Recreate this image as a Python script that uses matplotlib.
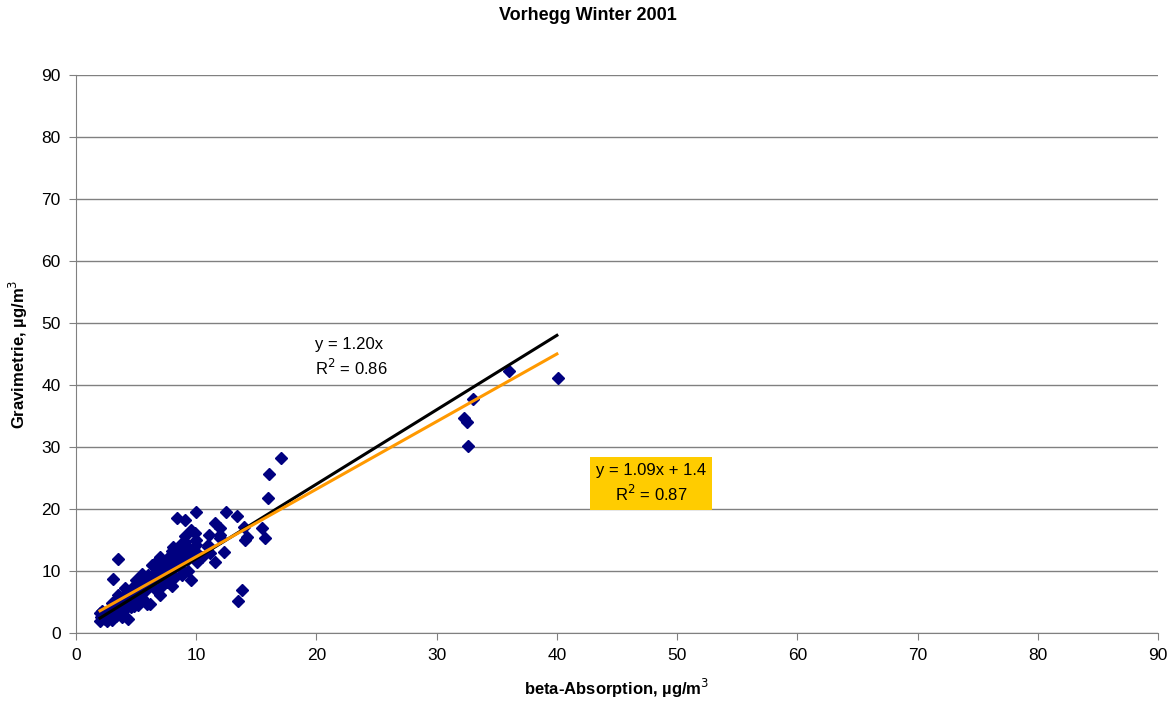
import numpy as np
import matplotlib.pyplot as plt

plt.rcParams['font.family'] = ['Liberation Sans', 'DejaVu Sans']

# beta-absorption vs gravimetric PM readings, µg/m3
beta = [2.0, 2.1, 2.0, 2.2, 2.4, 2.6, 2.8, 2.9, 3.0, 3.1, 3.2, 3.3, 3.4, 3.5, 3.6, 3.7, 3.8, 3.9,
        4.0, 4.1, 4.2, 4.3, 4.35, 4.5, 4.6, 4.7, 4.8, 4.9, 5.0, 5.05, 5.1, 5.2, 5.3, 5.4, 5.5, 5.6,
        5.8, 5.9, 6.0, 6.1, 6.15, 6.3, 6.4, 6.5, 6.6, 6.8, 7.0, 7.0, 7.1, 7.2, 7.4, 7.5, 7.6, 7.8,
        7.9, 8.0, 8.1, 8.2, 8.2, 8.4, 8.5, 8.6, 8.65, 8.8, 8.9, 9.05, 9.07, 9.07, 9.2, 9.3, 9.6,
        9.6, 9.8, 9.9, 10.0, 10.0, 10.0, 10.0, 10.1, 10.5, 11.0, 11.0, 11.1, 11.15, 11.56, 11.56,
        12.0, 12.0, 12.0, 12.3, 12.5, 13.4, 13.5, 13.8, 14.0, 14.1, 14.2, 15.45, 15.7, 16.0, 16.05,
        17.05, 32.3, 32.55, 32.6, 33.0, 36.0, 40.1, 3.47, 3.05,
        2.3, 2.5, 2.7, 3.0, 3.3, 3.6, 4.0, 4.4, 4.6, 5.0, 5.3, 5.7, 6.2, 6.7, 7.3, 7.7, 8.3, 5.5,
        6.8, 4.1, 8.7, 9.4, 7.6, 8.0]
grav = [2.0, 2.6, 3.3, 3.6, 2.2, 1.9, 2.4, 3.0, 2.1, 3.8, 4.4, 2.7, 5.2, 6.1, 3.4, 4.8, 2.5, 2.9,
        5.6, 7.2, 4.1, 6.4, 2.3, 4.9, 6.9, 5.3, 4.4, 7.8, 8.6, 6.0, 5.0, 4.5, 7.4, 6.6, 5.6, 8.2,
        6.9, 4.7, 9.3, 7.6, 4.6, 10.9, 8.4, 7.2, 9.6, 8.8, 6.1, 12.2, 10.3, 7.8, 11.0, 9.2, 8.3, 12.4,
        10.0, 7.6, 13.9, 11.5, 9.0, 18.5, 13.4, 10.6, 11.3, 9.4, 12.6, 18.3, 15.6, 14.7, 11.8, 10.0, 16.6,
        8.5, 12.8, 16.1, 19.5, 15.0, 14.2, 13.1, 11.5, 12.3, 14.2, 13.9, 15.8, 12.9, 17.7, 11.5,
        16.9, 15.8, 15.3, 13.0, 19.5, 18.9, 5.1, 7.0, 17.1, 15.0, 15.5, 17.0, 15.3, 21.8, 25.6,
        28.2, 34.6, 34.0, 30.2, 37.8, 42.2, 41.1, 12.0, 8.7,
        3.0, 2.8, 3.4, 4.9, 3.1, 5.8, 3.7, 5.0, 4.2, 6.5, 5.4, 7.9, 8.0, 10.1, 9.4, 11.4, 12.0, 9.5,
        11.8, 6.3, 14.3, 13.6, 11.9, 13.2]

# trend lines (through origin / free intercept)
slope0 = 1.20
slope1, icpt1 = 1.09, 1.4
xfit = np.array([2.0, 40.0])

fig = plt.figure(figsize=(11.76, 7.07), dpi=100)
ax = fig.add_axes([0.0646, 0.1047, 0.9201, 0.7893])

ax.plot(beta, grav, 'D', color='#000080', ms=6, mec='#000080', zorder=3)
ax.plot(xfit, slope0 * xfit, color='black', lw=2.2, zorder=4)
ax.plot(xfit, slope1 * xfit + icpt1, color='#FF9900', lw=2.2, zorder=4)

ax.set_xlim(0, 90)
ax.set_ylim(0, 90)
ax.set_xticks(range(0, 91, 10))
ax.set_yticks(range(0, 91, 10))
ax.grid(axis='y', color='#808080', lw=1.0)
ax.set_axisbelow(True)
for s in ['top', 'right']:
    ax.spines[s].set_visible(False)
for s in ['left', 'bottom']:
    ax.spines[s].set_color('#808080')
ax.tick_params(direction='out', length=5, color='#808080', labelsize=12.5, pad=6)

ax.text(19.9, 47.8, 'y = 1.20x\nR$^2$ = 0.86', fontsize=12, ha='left', va='top', linespacing=1.35)
ax.text(47.85, 24.1, 'y = 1.09x + 1.4\nR$^2$ = 0.87', fontsize=12, ha='center', va='center',
        linespacing=1.35, bbox=dict(boxstyle='square,pad=0.35', fc='#FFCC00', ec='none'))

ax.set_xlabel('beta-Absorption, µg/m$^3$', fontsize=12, fontweight='bold', labelpad=10)
ax.set_ylabel('Gravimetrie, µg/m$^3$', fontsize=12, fontweight='bold', labelpad=8)
fig.suptitle('Vorhegg Winter 2001', fontsize=13, fontweight='bold', y=0.99)

fig.savefig('out.png', dpi=100)
